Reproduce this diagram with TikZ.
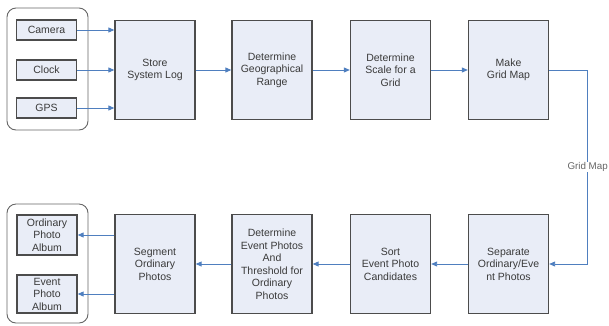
\documentclass[tikz,border=0pt]{standalone}
\usepackage{fontspec}
\setmainfont{Liberation Sans}
\usetikzlibrary{arrows.meta,positioning,calc}
\definecolor{boxfill}{HTML}{E9EDF7}
\definecolor{arrblue}{HTML}{4F7FBF}
\definecolor{txtgray}{HTML}{3A3A3A}

\begin{document}
\begin{tikzpicture}[x=1pt, y=-1pt,
    stage/.style={draw=black!70, line width=1.3pt, fill=boxfill, minimum width=80pt, minimum height=99pt, align=center, text=txtgray, font=\fontsize{10.5}{12.5}\selectfont, inner sep=1pt},
    src/.style={draw=black!70, line width=1.3pt, fill=boxfill, minimum width=60pt, minimum height=20pt, align=center, text=txtgray, font=\fontsize{10.5}{12.5}\selectfont, inner sep=1pt},
    grp/.style={draw=black!60, line width=0.9pt, rounded corners=9pt},
    arr/.style={-{Triangle[length=6pt,width=5pt]}, draw=arrblue, line width=0.9pt},
    lbl/.style={font=\fontsize{9.8}{12}\selectfont, text=black!60, fill=white, inner sep=0.5pt}
]
\useasboundingbox (0,0) rectangle (609,325);

% input group
\draw[grp] (7,8) rectangle (88,130);
\node[src] (camera) at (46.5,30) {Camera};
\node[src] (clock) at (46.5,70) {Clock};
\node[src] (gps) at (46.5,108) {GPS};

% top row
\node[stage] (store) at (155,70) {Store\\System Log};
\node[stage] (georange) at (272,70) {Determine\\Geographical\\Range};
\node[stage] (scale) at (390.5,70) {Determine\\Scale for a\\Grid};
\node[stage] (gridmap) at (508.5,70) {Make\\Grid Map};

% bottom row
\node[stage] (separate) at (508.5,264) {Separate\\Ordinary/Eve\\nt Photos};
\node[stage] (sort) at (390.5,264) {Sort\\Event Photo\\Candidates};
\node[stage] (evdet) at (272,264) {Determine\\Event Photos\\And\\Threshold for\\Ordinary\\Photos};
\node[stage] (segment) at (155,264) {Segment\\Ordinary\\Photos};

% album group
\draw[grp] (7,204) rectangle (88,323);
\node[src, minimum height=40pt] (ordalbum) at (47,235) {Ordinary\\Photo\\Album};
\node[src, minimum height=38pt] (evalbum) at (47,294) {Event\\Photo\\Album};

\draw[arr] (camera.east) -- (camera.east -| store.west);
\draw[arr] (clock.east) -- (clock.east -| store.west);
\draw[arr] (gps.east) -- (gps.east -| store.west);
\draw[arr] (store) -- (georange);
\draw[arr] (georange) -- (scale);
\draw[arr] (scale) -- (gridmap);
\draw[arr] (gridmap.east) -- ++(38.5,0) |- node[lbl, pos=0.25] {Grid Map} (separate.east);
\draw[arr] (separate) -- (sort);
\draw[arr] (sort) -- (evdet);
\draw[arr] (evdet) -- (segment);
\draw[arr] (ordalbum.east -| segment.west) -- (ordalbum.east);
\draw[arr] (evalbum.east -| segment.west) -- (evalbum.east);
\end{tikzpicture}
\end{document}
